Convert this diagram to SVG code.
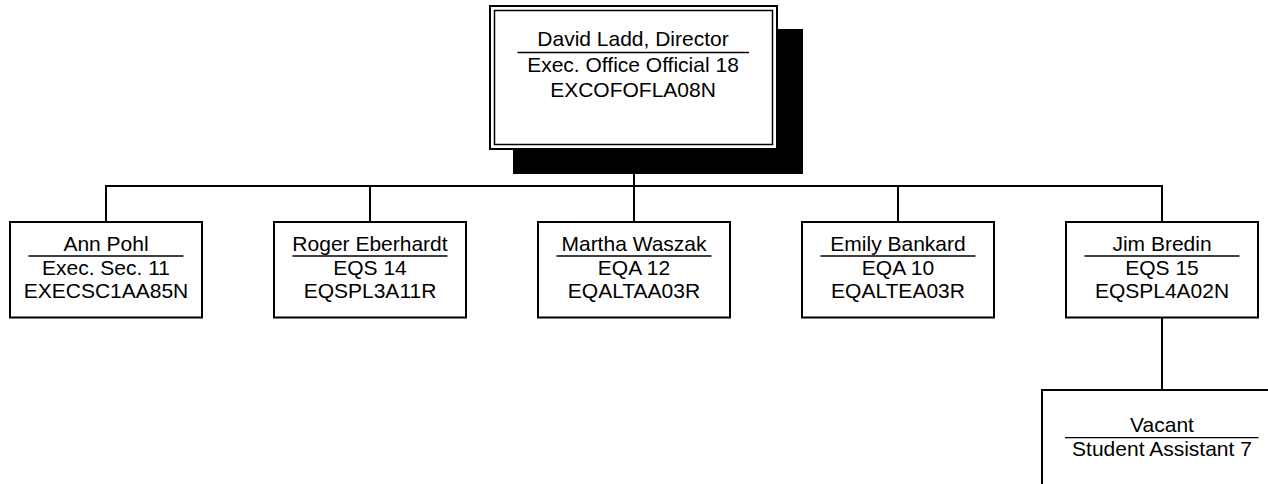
<svg xmlns="http://www.w3.org/2000/svg" width="1268" height="484" viewBox="0 0 1268 484">
<style>
.box{fill:#fff;stroke:#000;stroke-width:2}
.inner{fill:none;stroke:#000;stroke-width:1.5}
.shadow{fill:#000}
.ul{stroke:#000;stroke-width:1.3}
.conn{fill:none;stroke:#000;stroke-width:2}
text{font-family:"Liberation Sans",Arial,sans-serif;font-size:21px;fill:#000;text-anchor:middle}
</style>
<rect width="1268" height="484" fill="#fff"/>
<g id="connectors">
<line class="conn" x1="634" y1="174" x2="634" y2="186"/>
<line class="conn" x1="105" y1="186" x2="1163" y2="186"/>
<line class="conn" x1="106" y1="186" x2="106" y2="222"/>
<line class="conn" x1="370" y1="186" x2="370" y2="222"/>
<line class="conn" x1="634" y1="186" x2="634" y2="222"/>
<line class="conn" x1="898" y1="186" x2="898" y2="222"/>
<line class="conn" x1="1162" y1="186" x2="1162" y2="222"/>
<line class="conn" x1="1162" y1="317" x2="1162" y2="390"/>
</g>
<g id="director">
<rect class="shadow" x="513" y="29" width="290" height="145"/>
<rect class="box" x="490" y="6" width="287" height="143"/>
<rect class="inner" x="494.5" y="10.5" width="278" height="134"/>
<text x="633" y="46">David Ladd, Director</text>
<line class="ul" x1="517.5" y1="52.5" x2="749" y2="52.5"/>
<text x="633" y="72.3">Exec. Office Official 18</text>
<text x="633" y="96.7">EXCOFOFLA08N</text>
</g>
<g id="ann">
<rect class="box" x="10" y="222" width="192" height="95.5"/>
<text x="106" y="251">Ann Pohl</text>
<line class="ul" x1="28.5" y1="256" x2="183.5" y2="256"/>
<text x="106" y="274.5">Exec. Sec. 11</text>
<text x="106" y="298">EXECSC1AA85N</text>
</g>
<g id="roger">
<rect class="box" x="274" y="222" width="192" height="95.5"/>
<text x="370" y="251">Roger Eberhardt</text>
<line class="ul" x1="292.5" y1="256" x2="447.5" y2="256"/>
<text x="370" y="274.5">EQS 14</text>
<text x="370" y="298">EQSPL3A11R</text>
</g>
<g id="martha">
<rect class="box" x="538" y="222" width="192" height="95.5"/>
<text x="634" y="251">Martha Waszak</text>
<line class="ul" x1="556.5" y1="256" x2="711.5" y2="256"/>
<text x="634" y="274.5">EQA 12</text>
<text x="634" y="298">EQALTAA03R</text>
</g>
<g id="emily">
<rect class="box" x="802" y="222" width="192" height="95.5"/>
<text x="898" y="251">Emily Bankard</text>
<line class="ul" x1="820.5" y1="256" x2="975.5" y2="256"/>
<text x="898" y="274.5">EQA 10</text>
<text x="898" y="298">EQALTEA03R</text>
</g>
<g id="jim">
<rect class="box" x="1066" y="222" width="192" height="95.5"/>
<text x="1162" y="251">Jim Bredin</text>
<line class="ul" x1="1084.5" y1="256" x2="1239.5" y2="256"/>
<text x="1162" y="274.5">EQS 15</text>
<text x="1162" y="298">EQSPL4A02N</text>
</g>
<g id="vacant">
<rect class="box" x="1042" y="390" width="240" height="110"/>
<text x="1162" y="431.7">Vacant</text>
<line class="ul" x1="1065" y1="437.7" x2="1258.5" y2="437.7"/>
<text x="1162" y="456">Student Assistant 7</text>
</g>
</svg>
